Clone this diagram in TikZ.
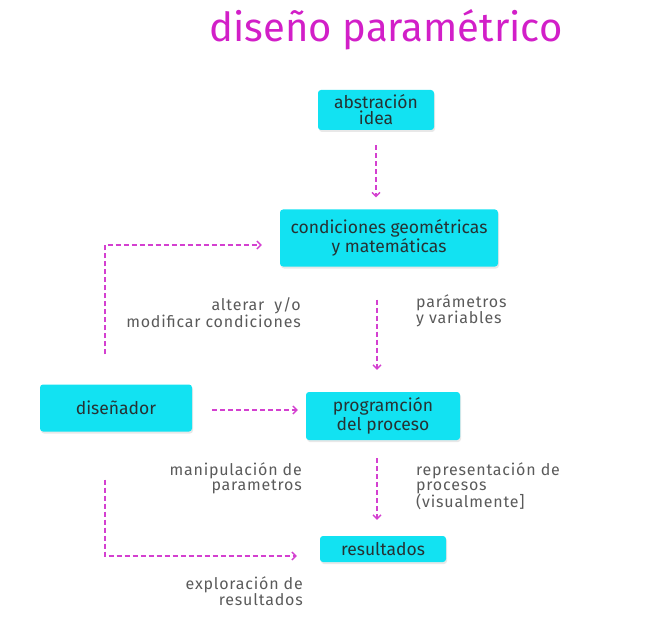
\documentclass[tikz,border=0pt]{standalone}
\usepackage{fontspec}
\setmainfont{Fira Sans}
\usetikzlibrary{arrows.meta,shadows}
\definecolor{boxcyan}{HTML}{12E2F2}
\definecolor{magenta1}{HTML}{D21FC8}
\definecolor{arrmag}{HTML}{D440D0}
\definecolor{boxtext}{HTML}{263233}
\definecolor{labgray}{HTML}{5A5A5A}
\tikzset{
  box/.style={fill=boxcyan, rounded corners=3pt, text=boxtext, align=center,
    font=\fontsize{17.5}{19}\selectfont, inner sep=2pt,
    drop shadow={opacity=0.18, shadow xshift=1pt, shadow yshift=-2pt}},
  lab/.style={text=labgray, font=\fontsize{16}{15}\selectfont\addfontfeatures{LetterSpace=5}, inner sep=0pt},
  dasharrow/.style={draw=arrmag, line width=1.5pt, dash pattern=on 5pt off 3pt,
    -{Straight Barb[length=4pt,width=8pt,line width=1.3pt]}},
}
\begin{document}
\begin{tikzpicture}[x=1pt,y=-1pt]
\useasboundingbox (0,0) rectangle (671,620);
\node[text=magenta1, font=\fontsize{40}{40}\selectfont, inner sep=0pt] (title) at (386,30) {diseño paramétrico};

\node[box, font=\fontsize{17.5}{16}\selectfont, minimum width=116pt, minimum height=40pt] (b1) at (376,110) {abstración\\idea};
\node[box, minimum width=218pt, minimum height=57pt] (b2) at (389,238) {condiciones geométricas\\y matemáticas};
\node[box, minimum width=152pt, minimum height=47pt] (dis) at (116,408) {diseñador};
\node[box, minimum width=154pt, minimum height=48pt] (b3) at (383,416) {programción\\del proceso};
\node[box, minimum width=126pt, minimum height=26pt] (b4) at (383,549) {resultados};

\node[lab, anchor=north east, align=right] (l1) at (301,297) {alterar\ \ y/o\\modificar condiciones};
\node[lab, anchor=north west, align=left] (l2) at (416,294) {parámetros\\y variables};
\node[lab, anchor=north east, align=right] (l3) at (302,462) {manipulación de\\parametros};
\node[lab, anchor=north west, align=left] (l4) at (416,462) {representación de\\procesos\\(visualmente]};
\node[lab, anchor=north east, align=right] (l5) at (303,576) {exploración de\\resultados};

\draw[dasharrow, shorten <=15pt, shorten >=12pt] (b1.south) -- (b1.south |- b2.north);
\draw[dasharrow, shorten <=33pt, shorten >=22pt] ([xshift=-12pt]b2.south) -- ([xshift=-12pt]b2.south |- b3.north);
\draw[dasharrow, shorten <=18pt, shorten >=16pt] ([xshift=-6pt]b3.south) -- ([xshift=-6pt]b3.south |- b4.north);
\draw[dasharrow, shorten <=20pt, shorten >=8pt] ([yshift=-2pt]dis.east) -- ([yshift=-2pt]dis.east -| b3.west);
\draw[dasharrow, shorten >=18pt] ([xshift=-11pt,yshift=30pt]dis.north) |- ([yshift=-7pt]b2.west);
\draw[dasharrow, shorten >=23pt] ([xshift=-11pt,yshift=-48pt]dis.south) |- ([yshift=-7pt]b4.west);
\end{tikzpicture}
\end{document}
